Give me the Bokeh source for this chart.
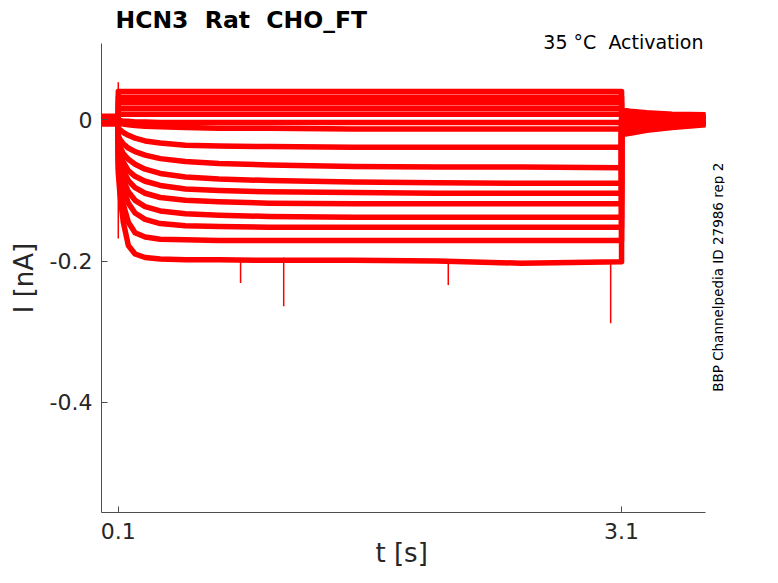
import math
from bokeh.plotting import figure
from bokeh.models import FixedTicker, Range1d, Title, Label
from bokeh.embed import file_html
from bokeh.resources import INLINE

# ---------------- data ----------------
pre_t = [0.0, 0.1]
step_t = [0.1, 0.11, 0.13, 0.16, 0.2, 0.26, 0.35, 0.5, 0.7, 1.0, 1.5, 2.0, 2.5, 3.1]
tail_t = [3.1, 3.15, 3.25, 3.4, 3.6]

pre_vals = [0.005, 0.004, 0.003, 0.003, 0.002, 0.001, 0.001, 0.0,
            0.0, -0.001, -0.002, -0.003, -0.003, -0.004, -0.005, -0.006]

step_vals = [
    [0.040, 0.040, 0.040, 0.040, 0.040, 0.040, 0.040, 0.040, 0.040, 0.040, 0.040, 0.040, 0.040, 0.040],
    [0.032, 0.032, 0.032, 0.032, 0.032, 0.032, 0.032, 0.032, 0.032, 0.032, 0.032, 0.032, 0.032, 0.032],
    [0.024, 0.024, 0.024, 0.024, 0.024, 0.024, 0.024, 0.024, 0.024, 0.024, 0.024, 0.024, 0.024, 0.024],
    [0.016, 0.016, 0.016, 0.016, 0.016, 0.016, 0.016, 0.016, 0.016, 0.016, 0.016, 0.016, 0.016, 0.016],
    [0.008, 0.008, 0.008, 0.008, 0.008, 0.008, 0.008, 0.008, 0.008, 0.008, 0.008, 0.008, 0.008, 0.008],
    [0.000, -0.001, -0.002, -0.002, -0.003, -0.003, -0.004, -0.004, -0.004, -0.004, -0.004, -0.004, -0.004, -0.004],
    [-0.004, -0.005, -0.006, -0.007, -0.008, -0.009, -0.010, -0.011, -0.012, -0.012, -0.013, -0.013, -0.013, -0.013],
    [-0.012, -0.014, -0.018, -0.022, -0.026, -0.030, -0.033, -0.036, -0.037, -0.038, -0.039, -0.039, -0.039, -0.039],
    [-0.022, -0.028, -0.034, -0.040, -0.045, -0.050, -0.055, -0.059, -0.062, -0.064, -0.066, -0.067, -0.067, -0.068],
    [-0.030, -0.038, -0.048, -0.056, -0.063, -0.070, -0.076, -0.081, -0.084, -0.086, -0.088, -0.089, -0.090, -0.090],
    [-0.038, -0.048, -0.060, -0.072, -0.080, -0.087, -0.093, -0.098, -0.100, -0.102, -0.103, -0.104, -0.104, -0.104],
    [-0.045, -0.057, -0.072, -0.086, -0.096, -0.104, -0.110, -0.114, -0.116, -0.118, -0.119, -0.119, -0.119, -0.119],
    [-0.052, -0.066, -0.085, -0.102, -0.114, -0.123, -0.129, -0.133, -0.135, -0.137, -0.138, -0.138, -0.138, -0.138],
    [-0.060, -0.076, -0.098, -0.118, -0.132, -0.141, -0.147, -0.150, -0.151, -0.152, -0.152, -0.152, -0.152, -0.152],
    [-0.068, -0.090, -0.120, -0.145, -0.160, -0.166, -0.169, -0.170, -0.171, -0.171, -0.171, -0.171, -0.171, -0.171],
    [-0.075, -0.105, -0.145, -0.178, -0.190, -0.195, -0.197, -0.198, -0.198, -0.199, -0.199, -0.200, -0.203, -0.201],
]

tail_vals = [
    [0.014, 0.012, 0.010, 0.008, 0.007],
    [0.012, 0.011, 0.009, 0.007, 0.006],
    [0.010, 0.009, 0.008, 0.006, 0.005],
    [0.008, 0.007, 0.006, 0.005, 0.004],
    [0.006, 0.005, 0.004, 0.004, 0.003],
    [0.004, 0.003, 0.003, 0.002, 0.002],
    [0.001, 0.001, 0.001, 0.001, 0.001],
    [-0.002, -0.002, -0.001, -0.001, 0.000],
    [-0.005, -0.004, -0.003, -0.002, -0.001],
    [-0.007, -0.006, -0.005, -0.003, -0.002],
    [-0.009, -0.008, -0.007, -0.005, -0.003],
    [-0.011, -0.010, -0.008, -0.006, -0.004],
    [-0.013, -0.012, -0.010, -0.007, -0.005],
    [-0.015, -0.014, -0.011, -0.008, -0.005],
    [-0.018, -0.016, -0.013, -0.009, -0.006],
    [-0.021, -0.019, -0.015, -0.011, -0.007],
]

# transient spikes: time, start level, end level
spike_t = [0.1, 0.829, 1.086, 2.067, 3.035]
spike_from = [0.053, -0.199, -0.195, -0.199, -0.199]
spike_to = [-0.168, -0.231, -0.264, -0.234, -0.288]

x_ticks = [0.1, 3.1]
x_tick_labels = ["0.1", "3.1"]
y_ticks = [0, -0.2, -0.4]
y_tick_labels = ["0", "-0.2", "-0.4"]

title_text = "HCN3 \u00a0Rat \u00a0CHO_FT"
subtitle_text = "35 °C \u00a0Activation"
side_text = "BBP Channelpedia ID 27986 rep 2"
x_label = "t [s]"
y_label = "I [nA]"

# ---------------- figure ----------------
FONT = "DejaVu Sans"
TXT = "#262626"
AX = "#4d4d4d"
RED = "#ff0000"

X_END = 3.6          # end of the drawn time axis
p = figure(width=762, height=567, output_backend="svg", toolbar_location=None,
           x_range=Range1d(0.0, 3.7136), y_range=Range1d(-0.556, 0.108),
           min_border_left=101, min_border_right=38, min_border_top=43, min_border_bottom=55)
p.title = None
p.outline_line_color = None
p.xgrid.visible = False
p.ygrid.visible = False
p.background_fill_color = "white"

for i in range(len(step_vals)):
    xs = pre_t + step_t + tail_t
    ys = [pre_vals[i], pre_vals[i]] + step_vals[i] + tail_vals[i]
    p.line(xs, ys, line_color=RED, line_width=5.5, line_join="round")

p.segment(x0=spike_t, y0=spike_from, x1=spike_t, y1=spike_to, line_color=RED, line_width=1.5)

for ax in (p.xaxis[0], p.yaxis[0]):
    ax.axis_line_color = AX
    ax.major_tick_line_color = AX
    ax.major_tick_in = 6
    ax.major_tick_out = 0
    ax.minor_tick_line_color = None
    ax.major_label_text_font = FONT
    ax.major_label_text_font_size = "22px"
    ax.major_label_text_color = TXT
    ax.axis_label_text_font = FONT
    ax.axis_label_text_font_size = "26px"
    ax.axis_label_text_font_style = "normal"
    ax.axis_label_text_color = TXT

p.xaxis.bounds = (0.0, X_END)
p.xaxis.ticker = FixedTicker(ticks=x_ticks)
p.yaxis.ticker = FixedTicker(ticks=y_ticks)
p.yaxis.major_label_overrides = {t: l for t, l in zip(y_ticks, y_tick_labels)}
p.xaxis.major_label_overrides = {t: l for t, l in zip(x_ticks, x_tick_labels)}
p.yaxis.axis_label = y_label
p.xaxis.major_label_standoff = 10
p.yaxis.major_label_standoff = 9
p.yaxis.axis_label_standoff = 8

# time-axis label, centred under the drawn axis (0 .. 3.6 s)
p.add_layout(Title(text=x_label, align="left", offset=274, vertical_align="bottom",
                   standoff=-12, text_font=FONT, text_font_size="26px",
                   text_font_style="normal", text_color=TXT), "below")

# side note, reading bottom to top, right of the time axis
p.add_layout(Label(x=3.673, y=-0.223, angle=math.pi / 2, text=side_text,
                   text_font=FONT, text_font_size="13.5px", text_color="black",
                   text_align="center", text_baseline="middle"))

# subtitle first (closest to the frame), then the main title above it
p.add_layout(Title(text=subtitle_text, align="right", offset=21, standoff=-18,
                   text_font=FONT, text_font_size="19px", text_font_style="normal",
                   text_color="black"), "above")
p.add_layout(Title(text=title_text, align="left", offset=14, standoff=7,
                   text_font=FONT, text_font_size="23.5px", text_font_style="bold",
                   text_color="black"), "above")

open("out.html", "w").write(file_html(p, INLINE))
